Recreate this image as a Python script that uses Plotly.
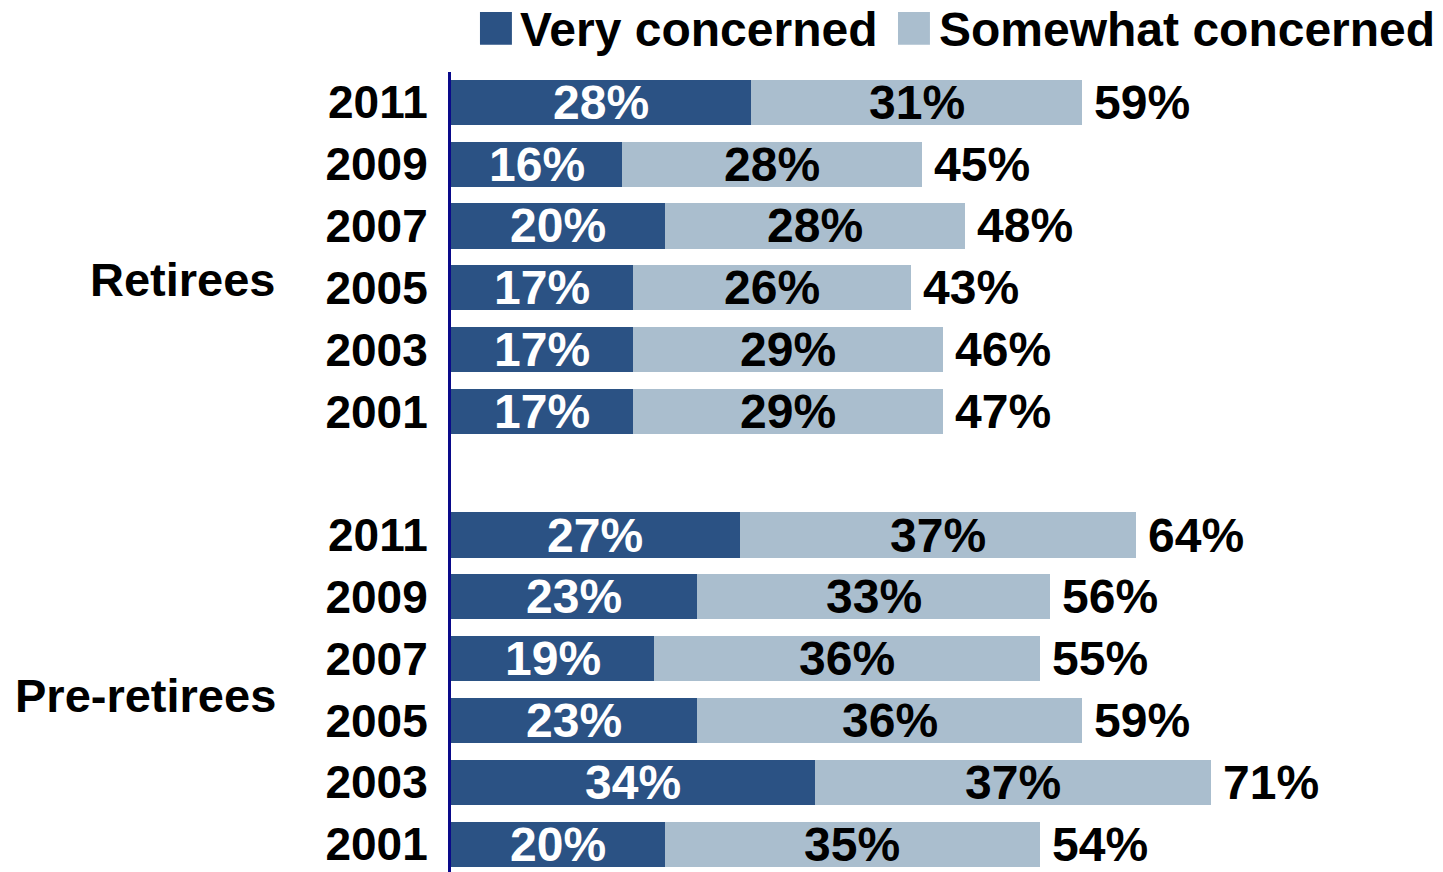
import plotly.graph_objects as go

# ---- data (top to bottom) ----
groups = ["Retirees", "Pre-retirees"]
years = ["2011", "2009", "2007", "2005", "2003", "2001"]
very_ret = [28, 16, 20, 17, 17, 17]
some_ret = [31, 28, 28, 26, 29, 29]
total_ret = [59, 45, 48, 43, 46, 47]
very_pre = [27, 23, 19, 23, 34, 20]
some_pre = [37, 33, 36, 36, 37, 35]
total_pre = [64, 56, 55, 59, 71, 54]
series_names = ["Very concerned", "Somewhat concerned"]

DARK = "#2B5284"
LIGHT = "#AABECE"
FONT = "Liberation Sans, Arial, sans-serif"
FS = 46
FS_PCT = 48

# row positions: retirees 0..5, blank 6, pre-retirees 7..12
pos = list(range(0, 6)) + list(range(7, 13))
very = very_ret + very_pre
some = some_ret + some_pre
totals = total_ret + total_pre
ylabels = years + years

fig = go.Figure()
fig.add_trace(go.Bar(y=pos, x=very, orientation="h", name=series_names[0],
                     marker=dict(color=DARK, line=dict(width=0)), showlegend=False))
fig.add_trace(go.Bar(y=pos, x=some, orientation="h", name=series_names[1],
                     marker=dict(color=LIGHT, line=dict(width=0)), showlegend=False))

annotations = []
for p, v, s, t in zip(pos, very, some, totals):
    annotations.append(dict(x=v / 2, y=p, xref="x", yref="y", text=f"{v}%",
                            xanchor="center", yanchor="middle", showarrow=False,
                            font=dict(family=FONT, size=FS_PCT, color="white", weight=700)))
    annotations.append(dict(x=v + s / 2, y=p, xref="x", yref="y", text=f"{s}%",
                            xanchor="center", yanchor="middle", showarrow=False,
                            font=dict(family=FONT, size=FS_PCT, color="black", weight=700)))
    annotations.append(dict(x=v + s, y=p, xref="x", yref="y", text=f"{t}%",
                            xanchor="left", yanchor="middle", xshift=10, showarrow=False,
                            font=dict(family=FONT, size=FS_PCT, color="black", weight=700)))

# group labels
annotations.append(dict(x=-0.174, y=2.87, xref="paper", yref="y", text=groups[0],
                        xanchor="right", yanchor="middle", showarrow=False,
                        font=dict(family=FONT, size=47, color="black", weight=700)))
annotations.append(dict(x=-0.174, y=9.6, xref="paper", yref="y", text=groups[1],
                        xanchor="right", yanchor="middle", showarrow=False,
                        font=dict(family=FONT, size=47, color="black", weight=700)))

# legend (swatch shapes + text annotations so sizes match the reference)
shapes = []
leg_items = [(series_names[0], DARK, 0.0292, 0.068), (series_names[1], LIGHT, 0.4506, 0.490)]
for name, col, xs, xt in leg_items:
    shapes.append(dict(type="rect", xref="paper", yref="paper",
                       x0=xs, x1=xs + 0.0322, y0=1.034, y1=1.075,
                       fillcolor=col, line=dict(width=0)))
    annotations.append(dict(x=xt, y=1.0885, xref="paper", yref="paper", text=name,
                            xanchor="left", yanchor="top", showarrow=False,
                            font=dict(family=FONT, size=48, color="black", weight=700)))

fig.update_layout(
    width=1443, height=872,
    margin=dict(l=451, r=0, t=72, b=0),
    paper_bgcolor="white", plot_bgcolor="white",
    barmode="stack", bargap=0.27,
    showlegend=False,
    annotations=annotations,
    shapes=shapes,
)
fig.update_xaxes(range=[0, 92.7], visible=False, showgrid=False, zeroline=False)
fig.update_yaxes(range=[12.45, -0.49], tickmode="array", tickvals=pos, ticktext=ylabels,
                 showgrid=False, zeroline=False, showline=True, linecolor="#0A0A8A",
                 linewidth=3, ticks="", ticklabelstandoff=11,
                 tickfont=dict(family=FONT, size=FS, color="black", weight=700))

# remove the default page margin so the figure fills the window exactly
fig.write_html("out.html", config={"displayModeBar": False},
               post_script="document.body.style.margin='0';document.body.style.overflow='hidden';")
